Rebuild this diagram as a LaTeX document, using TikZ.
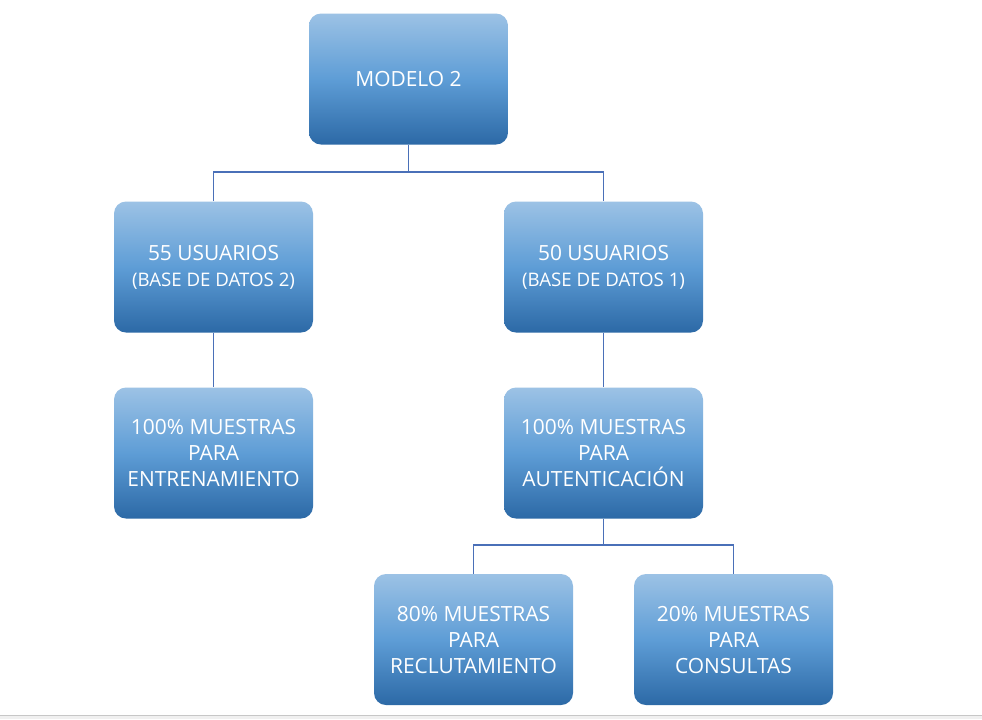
\documentclass[tikz,border=0pt]{standalone}
\usepackage{fontspec}
\setmainfont{Open Sans}
\definecolor{topc}{HTML}{9CC2E5}
\definecolor{midc}{HTML}{5E9DD6}
\definecolor{botc}{HTML}{2C69A6}
\definecolor{linec}{HTML}{4A70B8}
\tikzset{
  box/.style={rounded corners=9pt, minimum width=149.25pt, minimum height=98.25pt,
    top color=topc, bottom color=botc, middle color=midc, draw=none,
    text=white, align=center, font=\fontsize{15.7pt}{19.5pt}\selectfont, inner sep=0pt},
  conn/.style={draw=linec, line width=0.8pt}
}
\newcommand{\smalltxt}{\fontsize{14pt}{19.5pt}\selectfont}
\begin{document}
\begin{tikzpicture}[x=0.75pt,y=-0.75pt]
\useasboundingbox (0,0) rectangle (982,719);
\fill[white] (0,0) rectangle (982,719);
\fill[black!6] (0,715) rectangle (982,719);
\draw[black!22, line width=1pt] (0,715.5) -- (982,715.5);
\node[box] (M) at (408.5,79) {MODELO 2};
\node[box] (A) at (213.5,267) {55 USUARIOS\\{\smalltxt (BASE DE DATOS 2)}};
\node[box] (B) at (603.5,267) {50 USUARIOS\\{\smalltxt (BASE DE DATOS 1)}};
\node[box] (C) at (213.5,453) {100\% MUESTRAS\\PARA\\ENTRENAMIENTO};
\node[box] (D) at (603.5,453) {100\% MUESTRAS\\PARA\\AUTENTICACIÓN};
\node[box] (E) at (473.5,639.5) {80\% MUESTRAS\\PARA\\RECLUTAMIENTO};
\node[box] (F) at (733.5,639.5) {20\% MUESTRAS\\PARA\\CONSULTAS};
\coordinate (j1) at (408.5,172);
\coordinate (j2) at (603.5,545);
\draw[conn] (M.south) -- (j1);
\draw[conn] (A.north) |- (j1) -| (B.north);
\draw[conn] (A.south) -- (C.north);
\draw[conn] (B.south) -- (D.north);
\draw[conn] (D.south) -- (j2);
\draw[conn] (E.north) |- (j2) -| (F.north);
\end{tikzpicture}
\end{document}
